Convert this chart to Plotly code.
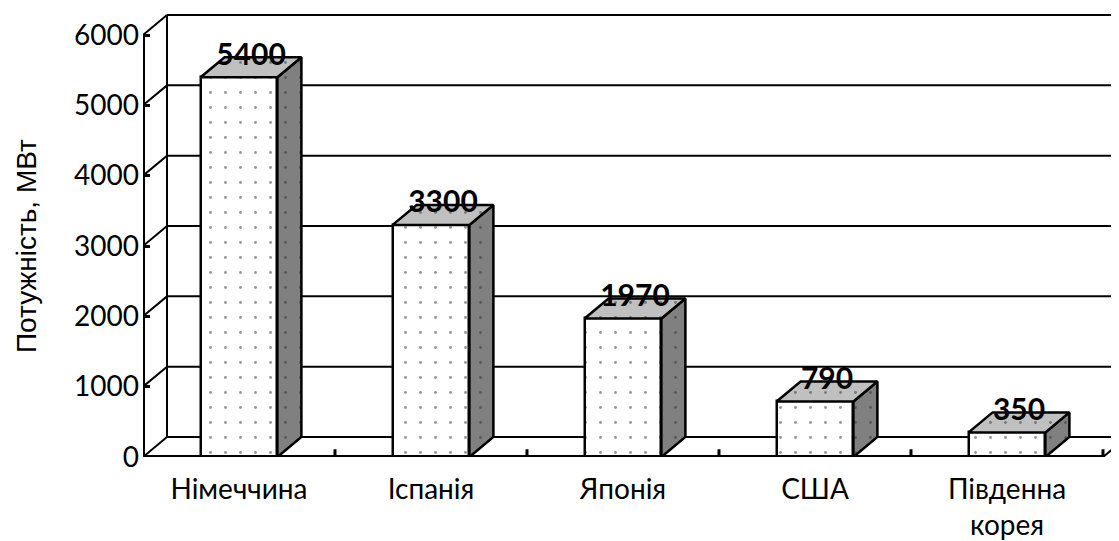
import plotly.graph_objects as go

# ---- data ----
categories = ["Німеччина", "Іспанія", "Японія", "США", "Південна<br>корея"]
values = [5400, 3300, 1970, 790, 350]
y_ticks = [0, 1000, 2000, 3000, 4000, 5000, 6000]
y_title = "Потужність, МВт"

# ---- geometry (data units) ----
DX = 0.125      # depth offset along x (category units)
DY = 284        # depth offset along y (value units)
HW = 0.2        # half width of a bar
N = len(categories)
YMAX = y_ticks[-1]
centers = [i + 0.5 for i in range(N)]

FONT = "Lato, Carlito, 'Noto Sans', sans-serif"

fig = go.Figure()

def pat(bg):
    return dict(shape=".", bgcolor=bg, fgcolor="#303030", size=15, solidity=0.03)

# front faces
fig.add_trace(go.Bar(
    x=centers, y=values, width=2 * HW,
    marker=dict(color="white", line=dict(color="black", width=2.5),
                pattern=pat("white")),
    hoverinfo="skip", showlegend=False,
))

# side and top faces
for c, v in zip(centers, values):
    xs = [c + HW, c + HW + DX, c + HW + DX, c + HW, c + HW]
    ys = [0, DY, v + DY, v, 0]
    fig.add_trace(go.Scatter(x=xs, y=ys, mode="lines", fill="toself",
                             fillcolor="#808080", fillpattern=pat("#808080"),
                             line=dict(color="black", width=2.5),
                             hoverinfo="skip", showlegend=False))
    xs = [c - HW, c - HW + DX, c + HW + DX, c + HW, c - HW]
    ys = [v, v + DY, v + DY, v, v]
    fig.add_trace(go.Scatter(x=xs, y=ys, mode="lines", fill="toself",
                             fillcolor="#c0c0c0", fillpattern=pat("#c0c0c0"),
                             line=dict(color="black", width=2.5),
                             hoverinfo="skip", showlegend=False))

# data labels
fig.add_trace(go.Scatter(
    x=[c + DX / 2 for c in centers], y=[v + DY for v in values],
    mode="text", text=[str(v) for v in values],
    textfont=dict(family=FONT, size=30, color="black", weight="bold"),
    textposition="middle center", hoverinfo="skip", showlegend=False,
))

shapes = []
# back wall gridlines and left-wall diagonals
for t in y_ticks:
    shapes.append(dict(type="line", xref="x", yref="y", x0=DX, x1=N + DX + 0.2,
                       y0=t + DY, y1=t + DY, line=dict(color="black", width=2),
                       layer="below"))
    shapes.append(dict(type="line", xref="x", yref="y", x0=0, x1=DX,
                       y0=t, y1=t + DY, line=dict(color="black", width=2),
                       layer="below"))
# back wall left edge
shapes.append(dict(type="line", xref="x", yref="y", x0=DX, x1=DX, y0=DY,
                   y1=YMAX + DY, line=dict(color="black", width=2), layer="below"))
# floor right edge
shapes.append(dict(type="line", xref="x", yref="y", x0=N, x1=N + DX, y0=0,
                   y1=DY, line=dict(color="black", width=2), layer="below"))
# front axes
shapes.append(dict(type="line", xref="x", yref="y", x0=0, x1=N, y0=0, y1=0,
                   line=dict(color="black", width=4)))
shapes.append(dict(type="line", xref="x", yref="y", x0=0, x1=0, y0=0, y1=YMAX,
                   line=dict(color="black", width=4)))
# x tick marks between categories
for k in range(1, N + 1):
    shapes.append(dict(type="line", xref="x", yref="y", x0=k, x1=k, y0=0, y1=110,
                       line=dict(color="black", width=3)))

# figure sized to fit the window once the page's 8px body margin is applied
fig.update_layout(
    width=1111, height=533,
    margin=dict(l=135, r=0, t=2, b=84),
    plot_bgcolor="white", paper_bgcolor="white",
    shapes=shapes, bargap=0,
    xaxis=dict(range=[0, 976 / 192], tickvals=centers, ticktext=categories,
               ticks="", showgrid=False, zeroline=False, showline=False,
               automargin=False, ticklabelstandoff=13,
               tickfont=dict(family=FONT, size=28, color="black")),
    yaxis=dict(range=[0, 447 / (422 / 6000)], tickvals=y_ticks,
               ticks="inside", ticklen=7, tickwidth=3, tickcolor="black",
               showgrid=False, zeroline=False, showline=False,
               automargin=False, ticklabelstandoff=3,
               tickfont=dict(family=FONT, size=28, color="black")),
    annotations=[dict(text=y_title, xref="paper", yref="y", x=-117 / 976, y=3000,
                      xanchor="center", yanchor="middle", textangle=-90,
                      showarrow=False,
                      font=dict(family="Liberation Sans, Arial, sans-serif",
                                size=28, color="black"))],
)

fig.write_html("out.html")
